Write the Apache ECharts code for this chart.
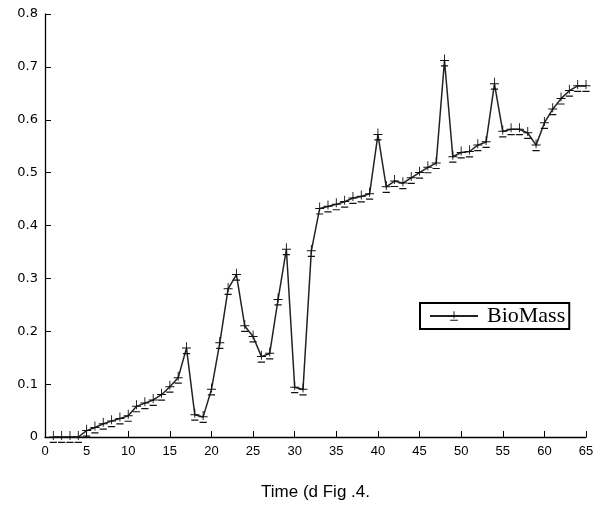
<!DOCTYPE html>
<html>
<head>
<meta charset="utf-8">
<script src="https://cdn.jsdelivr.net/npm/echarts@6/dist/echarts.min.js"></script>
<style>html,body{margin:0;padding:0;background:#fff;}#c{width:600px;height:508px;}</style>
</head>
<body>
<div id="c"></div>
<script>
var days = [1,2,3,4,5,6,7,8,9,10,11,12,13,14,15,16,17,18,19,20,21,22,23,24,25,26,27,28,29,30,31,32,33,34,35,36,37,38,39,40,41,42,43,44,45,46,47,48,49,50,51,52,53,54,55,56,57,58,59,60,61,62,63,64,65];
var biomass = [0,0,0,0,0.012,0.018,0.025,0.03,0.035,0.04,0.058,0.064,0.07,0.08,0.095,0.112,0.168,0.042,0.038,0.09,
  0.178,0.28,0.307,0.21,0.19,0.152,0.158,0.26,0.355,0.094,0.09,0.352,0.432,0.436,0.44,0.445,0.452,0.455,0.46,0.572,
  0.473,0.484,0.48,0.49,0.5,0.51,0.518,0.712,0.53,0.538,0.54,0.552,0.558,0.668,0.578,0.582,0.582,0.575,0.552,0.594,
  0.62,0.64,0.655,0.664,0.664];
var yTicks = [0,0.1,0.2,0.3,0.4,0.5,0.6,0.7,0.8];
var xTicks = [0,5,10,15,20,25,30,35,40,45,50,55,60,65];

var pts = days.map(function(d,i){return [d, biomass[i]];});
var markPath = 'path://M4.5,0 L5.5,0 L5.5,5.4 L10,5.4 L10,6.4 L5.5,6.4 L5.5,9 L4.5,9 L4.5,6.4 L0,6.4 L0,5.4 L4.5,5.4 Z M1,10.8 L9,10.8 L9,12 L1,12 Z';

var chart = echarts.init(document.getElementById('c'));
chart.setOption({
  animation: false,
  grid: {left: 45, right: 14, top: 14, bottom: 71},
  legend: {
    left: 420, top: 303,
    padding: [2, 4, 2, 9],
    borderColor: '#000', borderWidth: 2, borderRadius: 0,
    itemWidth: 48, itemHeight: 12, itemGap: 8,
    textStyle: {fontFamily: 'Liberation Serif, serif', fontSize: 22, color: '#000', padding: [0, 0, 0, 4]},
    data: [{name: 'BioMass'}]
  },
  xAxis: {
    type: 'value', min: 0, max: 65, interval: 5,
    name: 'Time (d Fig .4.', nameLocation: 'middle', nameGap: 47,
    nameTextStyle: {fontFamily: 'Liberation Sans, Arial, sans-serif', fontSize: 17, color: '#000'},
    axisLine: {lineStyle: {color: '#000', width: 1.3}},
    axisTick: {inside: true, length: 6, lineStyle: {color: '#000'}},
    axisLabel: {fontFamily: 'Liberation Sans, Arial, sans-serif', fontSize: 13, color: '#000', margin: 8,
      formatter: function(v){return xTicks.indexOf(v) >= 0 ? String(v) : '';}},
    splitLine: {show: false}
  },
  yAxis: {
    type: 'value', min: 0, max: 0.8, interval: 0.1,
    axisLine: {show: true, lineStyle: {color: '#000', width: 1.3}},
    axisTick: {show: true, inside: true, length: 6, lineStyle: {color: '#000'}},
    axisLabel: {fontFamily: 'DejaVu Sans, Verdana, sans-serif', fontSize: 13, color: '#000', margin: 7,
      formatter: function(v){var r = Math.round(v*10)/10; return yTicks.indexOf(r) >= 0 ? (r === 0 ? '0' : r.toFixed(1)) : '';}},
    splitLine: {show: false}
  },
  series: [{
    name: 'BioMass',
    type: 'line',
    data: pts,
    symbol: markPath,
    symbolSize: [9, 12],
    itemStyle: {color: '#111'},
    lineStyle: {color: '#222', width: 1.5}
  }]
});
</script>
</body>
</html>
